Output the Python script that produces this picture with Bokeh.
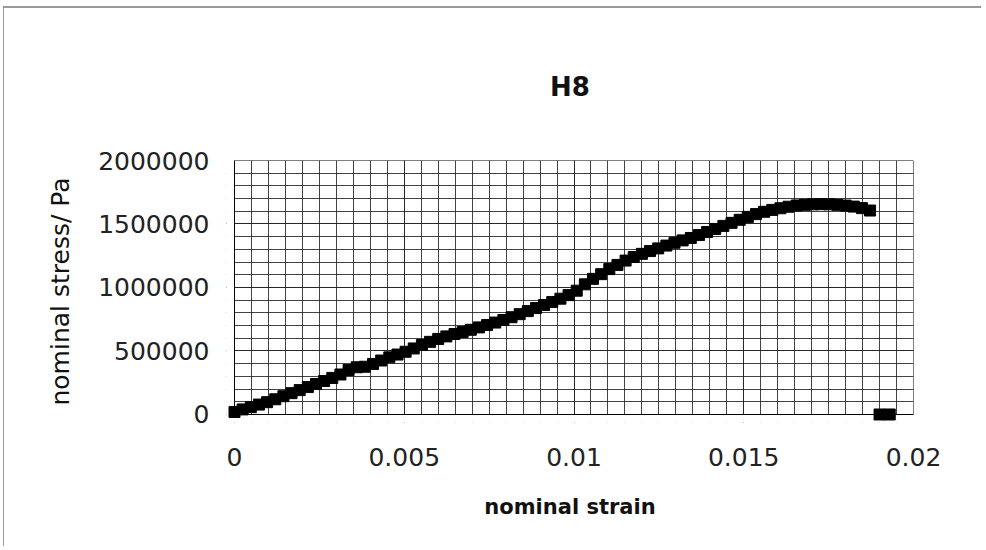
from bokeh.plotting import figure
from bokeh.models import Range1d, SingleIntervalTicker, BoxAnnotation, CustomJSTickFormatter
from bokeh.embed import file_html
from bokeh.resources import INLINE

title_text = "H8"
x_label = "nominal strain"
y_label = "nominal stress/ Pa"

x_min, x_max = 0.0, 0.02
y_min, y_max = 0, 2000000

strain = [0.00000, 0.00024, 0.00048, 0.00072, 0.00096, 0.00120, 0.00144, 0.00168, 0.00192, 0.00216,
          0.00240, 0.00264, 0.00288, 0.00312, 0.00336, 0.00360, 0.00384, 0.00408, 0.00432, 0.00456,
          0.00480, 0.00504, 0.00528, 0.00552, 0.00576, 0.00600, 0.00624, 0.00648, 0.00672, 0.00696,
          0.00720, 0.00744, 0.00768, 0.00792, 0.00816, 0.00840, 0.00864, 0.00888, 0.00912, 0.00936,
          0.00960, 0.00984, 0.01008, 0.01032, 0.01056, 0.01080, 0.01104, 0.01128, 0.01152, 0.01176,
          0.01200, 0.01224, 0.01248, 0.01272, 0.01296, 0.01320, 0.01344, 0.01368, 0.01392, 0.01416,
          0.01440, 0.01464, 0.01488, 0.01512, 0.01536, 0.01560, 0.01584, 0.01608, 0.01632, 0.01656,
          0.01680, 0.01704, 0.01728, 0.01752, 0.01776, 0.01800, 0.01824, 0.01848, 0.01872, 0.01900,
          0.01930]
stress = [20000, 40000, 58000, 78000, 97000, 120000, 144000, 168000, 192000, 216000,
          240000, 264000, 288000, 315000, 350000, 372000, 376000, 398000, 425000, 450000,
          472000, 494000, 520000, 547000, 572000, 595000, 615000, 634000, 650000, 667000,
          686000, 705000, 724000, 744000, 766000, 790000, 814000, 838000, 862000, 886000,
          912000, 940000, 975000, 1025000, 1068000, 1105000, 1145000, 1178000, 1212000, 1240000,
          1265000, 1287000, 1308000, 1330000, 1352000, 1371000, 1390000, 1413000, 1437000, 1461000,
          1485000, 1509000, 1533000, 1556000, 1578000, 1596000, 1611000, 1624000, 1636000, 1646000,
          1651000, 1655000, 1656000, 1655000, 1651000, 1645000, 1637000, 1625000, 1606000, 0,
          0]

FONT = "DejaVu Sans"

# small padding outside the plotted box so edge markers are not clipped
x_pad = 0.000236
y_pad = 63000

p = figure(width=978, height=540, output_backend="svg", toolbar_location=None,
           x_range=Range1d(x_min - x_pad, x_max), y_range=Range1d(y_min - y_pad, y_max),
           min_border_left=222, min_border_right=69, min_border_top=152, min_border_bottom=126,
           title=title_text)

p.title.text_font = FONT
p.title.text_font_size = "26px"
p.title.text_font_style = "bold"
p.title.align = "center"
p.title.text_color = "#111111"
p.title.standoff = 118

p.xaxis.ticker = SingleIntervalTicker(interval=0.005, num_minor_ticks=10)
p.yaxis.ticker = SingleIntervalTicker(interval=500000, num_minor_ticks=5)
p.xaxis.formatter = CustomJSTickFormatter(code="return String(parseFloat(tick.toFixed(4)));")
p.yaxis.formatter = CustomJSTickFormatter(code="return String(Math.round(tick));")

for ax in (p.xaxis, p.yaxis):
    ax.major_label_text_font = FONT
    ax.major_label_text_font_size = "25px"
    ax.major_label_text_color = "#222222"
    ax.axis_label_text_font = FONT
    ax.axis_label_text_color = "#111111"
    ax.axis_line_color = None
    ax.major_tick_line_color = None
    ax.minor_tick_line_color = None

p.xaxis.axis_label = x_label
p.xaxis.axis_label_text_font_size = "21px"
p.xaxis.axis_label_text_font_style = "bold"
p.xaxis.major_label_standoff = 19
p.xaxis.axis_label_standoff = 26

p.yaxis.axis_label = y_label
p.yaxis.axis_label_text_font_size = "25px"
p.yaxis.axis_label_text_font_style = "normal"
p.yaxis.major_label_standoff = 11
p.yaxis.axis_label_standoff = 20

for g in (p.xgrid, p.ygrid):
    g.grid_line_color = "#222222"
    g.grid_line_alpha = 0.85
    g.grid_line_width = 1
    g.minor_grid_line_color = "#222222"
    g.minor_grid_line_alpha = 0.85
    g.minor_grid_line_width = 1

p.outline_line_color = None
p.background_fill_color = "white"
p.border_fill_color = "white"

# hide grid in the padding strips
p.add_layout(BoxAnnotation(right=x_min, fill_color="white", fill_alpha=1.0,
                           line_color=None, level="underlay"))
p.add_layout(BoxAnnotation(top=y_min, fill_color="white", fill_alpha=1.0,
                           line_color=None, level="underlay"))

# plot-area box
p.quad(left=[x_min], right=[x_max], bottom=[y_min], top=[y_max],
       fill_color=None, line_color="black", line_width=1)

p.scatter(strain, stress, marker="square", size=11, fill_color="black", line_color="black")

p.styles = {"margin-top": "6px", "margin-left": "3px",
            "border-top": "2px solid #999999", "border-left": "1px solid #999999"}

open("out.html", "w").write(file_html(p, INLINE))
